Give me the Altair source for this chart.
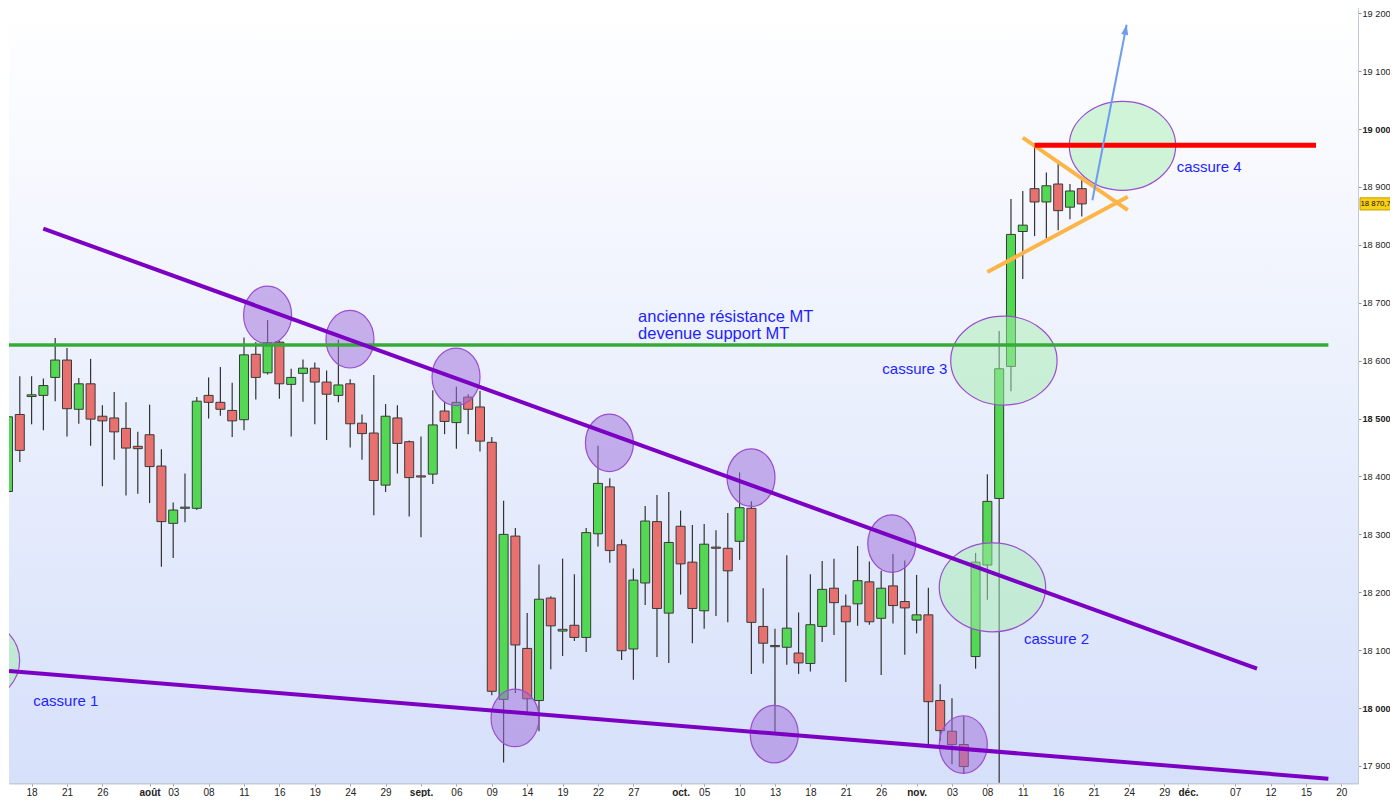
import altair as alt
import pandas as pd

W, H = 1349, 775
X_DOMAIN = [0.085, 114.41]
Y_DOMAIN = [17870.6, 19209]

# ---- candles (index, open, high, low, close) ----
opens = [18374, 18507, 18538, 18540, 18571, 18601, 18516, 18560, 18504, 18501,
         18483, 18452, 18472, 18418, 18319, 18345, 18345, 18540, 18528, 18514,
         18498, 18611, 18579, 18632, 18559, 18578, 18587, 18563, 18540, 18560,
         18492, 18475, 18385, 18501, 18460, 18401, 18404, 18513, 18493, 18537,
         18520, 18459, 18015, 18297, 18103, 18013, 18190, 18133, 18143, 18122,
         18301, 18382, 18282, 18102, 18216, 18322, 18164, 18314, 18252, 18168,
         18278, 18276, 18288, 18345, 18141, 18108, 18105, 18095, 18077, 18141,
         18207, 18176, 18180, 18218, 18155, 18211, 18184, 18152, 18161, 18013,
         17960, 17937, 18089, 18247, 18362, 18590, 18823, 18897, 18874, 18905,
         18865, 18897]
highs = [18519, 18573, 18573, 18569, 18639, 18622, 18570, 18603, 18523, 18546,
         18528, 18477, 18524, 18447, 18355, 18405, 18537, 18571, 18589, 18562,
         18640, 18632, 18670, 18634, 18586, 18602, 18597, 18583, 18636, 18568,
         18507, 18575, 18525, 18523, 18462, 18469, 18549, 18529, 18555, 18542,
         18548, 18468, 18358, 18311, 18164, 18248, 18193, 18258, 18231, 18311,
         18453, 18397, 18291, 18241, 18349, 18368, 18373, 18341, 18316, 18318,
         18307, 18337, 18407, 18357, 18207, 18137, 18264, 18165, 18231, 18254,
         18258, 18196, 18280, 18253, 18237, 18266, 18255, 18230, 18208, 18041,
         18017, 17986, 18268, 18404, 18651, 18879, 18893, 18971, 18925, 18940,
         18905, 18912]
lows = [18364, 18425, 18490, 18480, 18530, 18469, 18491, 18453, 18383, 18429,
        18367, 18370, 18354, 18244, 18259, 18321, 18342, 18500, 18505, 18468,
        18480, 18533, 18576, 18534, 18469, 18529, 18490, 18463, 18528, 18450,
        18429, 18333, 18373, 18405, 18331, 18295, 18387, 18473, 18448, 18473,
        18443, 18022, 17906, 18026, 17992, 17960, 18067, 18090, 18116, 18097,
        18279, 18251, 18083, 18049, 18178, 18088, 18078, 18196, 18112, 18137,
        18159, 18148, 18256, 18059, 18077, 17955, 18075, 18059, 18063, 18114,
        18126, 18045, 18142, 18144, 18057, 18146, 18092, 18129, 17937, 17943,
        17903, 17886, 18068, 18187, 17871, 18547, 18741, 18815, 18811, 18825,
        18844, 18849]
closes = [18503, 18445, 18541, 18557, 18601, 18517, 18560, 18499, 18496, 18477,
          18449, 18448, 18417, 18322, 18342, 18347, 18530, 18528, 18516, 18496,
          18610, 18571, 18631, 18560, 18571, 18587, 18563, 18542, 18558, 18491,
          18474, 18393, 18504, 18457, 18398, 18399, 18489, 18495, 18528, 18516,
          18461, 18029, 18300, 18109, 18016, 18188, 18142, 18136, 18122, 18303,
          18388, 18272, 18099, 18221, 18323, 18172, 18286, 18249, 18172, 18283,
          18276, 18237, 18346, 18148, 18112, 18106, 18138, 18078, 18144, 18205,
          18182, 18149, 18220, 18149, 18207, 18177, 18173, 18161, 18011, 17961,
          17937, 17899, 18252, 18357, 18586, 18818, 18834, 18874, 18902, 18859,
          18893, 18870.7]
candle_idx = list(range(len(opens)))

# ---- x axis ticks (candle index) and labels ----
tick_pos = [2, 5, 8, 12, 14, 17, 20, 23, 26, 29, 32, 35, 38, 41, 44, 47, 50, 53, 57,
            59, 62, 65, 68, 71, 74, 77, 80, 83, 86, 89, 92, 95, 98, 100, 104, 107, 110, 113]
tick_labels = ["18", "21", "26", "août", "03", "08", "11", "16", "19", "24", "29", "sept.",
               "06", "09", "14", "19", "22", "27", "oct.", "05", "10", "13", "18", "21", "26",
               "nov.", "03", "08", "11", "16", "21", "24", "29", "déc.", "07", "12", "15", "20"]
month_pos = [12, 35, 57, 77, 100]
y_ticks = [17900, 18000, 18100, 18200, 18300, 18400, 18500, 18600, 18700, 18800,
           18900, 19000, 19100, 19200]

# ---- annotations ----
purple_circ_x = [22.0, 28.98, 37.97, 50.97, 62.97, 74.9, 42.97, 64.94, 80.96]
purple_circ_y = [18679, 18637, 18572, 18458, 18398, 18284, 17983, 17955, 17937]
green_circ_x = [-3.52, 83.43, 84.4, 94.45]
green_circ_y = [18082, 18208.5, 18600, 18971]

support_x = [0.085, 111.9]
support_y = [18627, 18627]
upper_trend_x = [2.99, 105.85]
upper_trend_y = [18828, 18068]
lower_trend_x = [0.085, 111.9]
lower_trend_y = [18064, 17878]
orange_up_x = [86.0, 94.9]
orange_up_y = [18985, 18860]
orange_low_x = [83.0, 94.9]
orange_low_y = [18753, 18883]
red_x = [87.0, 110.85]
red_y = [18972, 18972]
arrow_x = [91.9, 94.8]
arrow_y = [18877, 19180]

note_text = ["ancienne résistance MT", "devenue support MT"]
note_x = [53.4, 53.4]
note_y = [18676, 18646]
cassure_text = ["cassure 1", "cassure 2", "cassure 3", "cassure 4"]
cassure_x = [2.14, 86.1, 74.1, 99.04]
cassure_y = [18013, 18120, 18586, 18934]

FONT = "Liberation Sans"
xsc = alt.Scale(domain=X_DOMAIN, nice=False, zero=False, padding=0)
ysc = alt.Scale(domain=Y_DOMAIN, nice=False, zero=False, padding=0)

candles = pd.DataFrame({"i": candle_idx, "o": opens, "h": highs, "l": lows, "c": closes})


def js_arr(vals, quote=False):
    if quote:
        return "[" + ",".join("'" + str(v) + "'" for v in vals) + "]"
    return "[" + ",".join(str(v) for v in vals) + "]"


def ellipse_path(ratio):
    k = 0.5523
    e = ratio
    return (f"M1,0 C1,{k*e:.4f} {k:.4f},{e:.4f} 0,{e:.4f} "
            f"C{-k:.4f},{e:.4f} -1,{k*e:.4f} -1,0 "
            f"C-1,{-k*e:.4f} {-k:.4f},{-e:.4f} 0,{-e:.4f} "
            f"C{k:.4f},{-e:.4f} 1,{-k*e:.4f} 1,0 Z")


x_axis = alt.Axis(
    values=tick_pos,
    labelExpr=f"{js_arr(tick_labels, True)}[indexof({js_arr(tick_pos)}, datum.value)]",
    labelFontWeight={"condition": {"test": f"indexof({js_arr(month_pos)}, datum.value) >= 0",
                                   "value": "bold"}, "value": "normal"},
    tickSize=3, tickColor="#9aa3ad", domainColor="#c3cbd6", domainWidth=2,
    labelFont=FONT, labelFontSize=10, labelColor="#222222", labelPadding=1,
    labelOverlap=False, labelFlush=False, grid=False, title=None,
)
y_axis = alt.Axis(
    orient="right", values=y_ticks,
    labelExpr="replace(format(datum.value, ','), ',', ' ')",
    labelFontWeight={"condition": {"test": "datum.value % 500 === 0", "value": "bold"},
                     "value": "normal"},
    tickSize=3, tickColor="#8a939e", domainColor="#c3cbd6", domainWidth=1,
    labelFont=FONT, labelFontSize=9.2, labelColor="#222222", labelPadding=1,
    grid=False, title=None,
)


def X(field):
    return alt.X(field, scale=xsc, axis=x_axis)


def Y(field):
    return alt.Y(field, scale=ysc, axis=y_axis)


bg = alt.Chart(pd.DataFrame({"a": [0]})).mark_rect(
    color=alt.Gradient(gradient="linear",
                       stops=[alt.GradientStop(color="#ffffff", offset=0),
                              alt.GradientStop(color="#d6e0fa", offset=1)],
                       x1=0, x2=0, y1=0, y2=1)
).encode(x=alt.value(0), x2=alt.value(W), y=alt.value(0), y2=alt.value(H))

wicks = alt.Chart(candles).mark_rule(color="#333333", strokeWidth=1.2, clip=True).encode(
    x=X("i:Q"), y=Y("l:Q"), y2="h:Q",
)
bodies = alt.Chart(candles).mark_bar(size=9, stroke="#3a3a3a", strokeWidth=1, clip=True).encode(
    x=X("i:Q"), y=Y("o:Q"), y2="c:Q",
    color=alt.condition("datum.c >= datum.o", alt.value("#52d852"), alt.value("#e8706f")),
)

pc = pd.DataFrame({"x": purple_circ_x, "y": purple_circ_y})
purple_circles = alt.Chart(pc).mark_point(
    shape=ellipse_path(1.2), size=2304, filled=True, fill="#a070d8", fillOpacity=0.52,
    stroke="#9b4dd0", strokeWidth=1.2, strokeOpacity=1, opacity=1, clip=True,
).encode(x=X("x:Q"), y=Y("y:Q"))

gc = pd.DataFrame({"x": green_circ_x, "y": green_circ_y})
green_circles = alt.Chart(gc).mark_point(
    shape=ellipse_path(0.836), size=11321, filled=True, fill="#a6eeb0", fillOpacity=0.5,
    stroke="#9b4dd0", strokeWidth=1.2, strokeOpacity=1, opacity=1, clip=True,
).encode(x=X("x:Q"), y=Y("y:Q"))


def seg(xs_, ys_, color, width):
    d = pd.DataFrame({"x": xs_, "y": ys_})
    return alt.Chart(d).mark_line(color=color, strokeWidth=width, clip=True).encode(
        x=X("x:Q"), y=Y("y:Q"))


support = seg(support_x, support_y, "#38aa38", 3.5)
upper_tr = seg(upper_trend_x, upper_trend_y, "#7c00c4", 4)
lower_tr = seg(lower_trend_x, lower_trend_y, "#7c00c4", 4)
orange1 = seg(orange_up_x, orange_up_y, "#fdb548", 4)
orange2 = seg(orange_low_x, orange_low_y, "#fdb548", 4)
red_line = seg(red_x, red_y, "#ff0000", 5)
arrow_line = seg(arrow_x, arrow_y, "#6f9cf0", 2)
arrow_head = alt.Chart(pd.DataFrame({"x": [arrow_x[1]], "y": [arrow_y[1]]})).mark_point(
    shape="M0,0 L-0.5,1.4 L0.5,1.4 Z", size=204, angle=11, filled=True,
    color="#6f9cf0", opacity=1,
).encode(x=X("x:Q"), y=Y("y:Q"))

notes = alt.Chart(pd.DataFrame({"x": note_x, "y": note_y, "t": note_text})).mark_text(
    align="left", baseline="middle", font=FONT, fontSize=16.5, color="#1f1fff",
).encode(x=X("x:Q"), y=Y("y:Q"), text="t:N")

cassures = alt.Chart(pd.DataFrame({"x": cassure_x, "y": cassure_y, "t": cassure_text})).mark_text(
    align="left", baseline="middle", font=FONT, fontSize=15, color="#1f1fff",
).encode(x=X("x:Q"), y=Y("y:Q"), text="t:N")

last = closes[-1]
last_label = f"{last:,.1f}".replace(",", " ").replace(".", ",")
tag_df = pd.DataFrame({"y": [last], "lo": [last - 10.5], "hi": [last + 10.5], "t": [last_label]})
tag_box = alt.Chart(tag_df).mark_rect(fill="#f7cf17", stroke="#c9a100", strokeWidth=1).encode(
    x=alt.value(W + 2), x2=alt.value(W + 35),
    y=Y("lo:Q"), y2="hi:Q",
)
tag_text = alt.Chart(tag_df).mark_text(
    align="left", baseline="middle", font=FONT, fontSize=7.8, color="#111111",
).encode(x=alt.value(W + 2.5), y=Y("y:Q"), text="t:N")

chart = alt.layer(
    bg, wicks, bodies, purple_circles, green_circles,
    support, upper_tr, lower_tr, orange1, orange2, red_line,
    arrow_line, arrow_head, notes, cassures, tag_box, tag_text,
).properties(
    width=W, height=H,
    autosize=alt.AutoSizeParams(type="none"),
    padding={"left": 1, "top": 0, "right": 32, "bottom": 14},
    background="white",
).configure_view(stroke="#c5cdd8", strokeWidth=1)

chart.save("out.html", embed_options={"renderer": "svg", "actions": False})
